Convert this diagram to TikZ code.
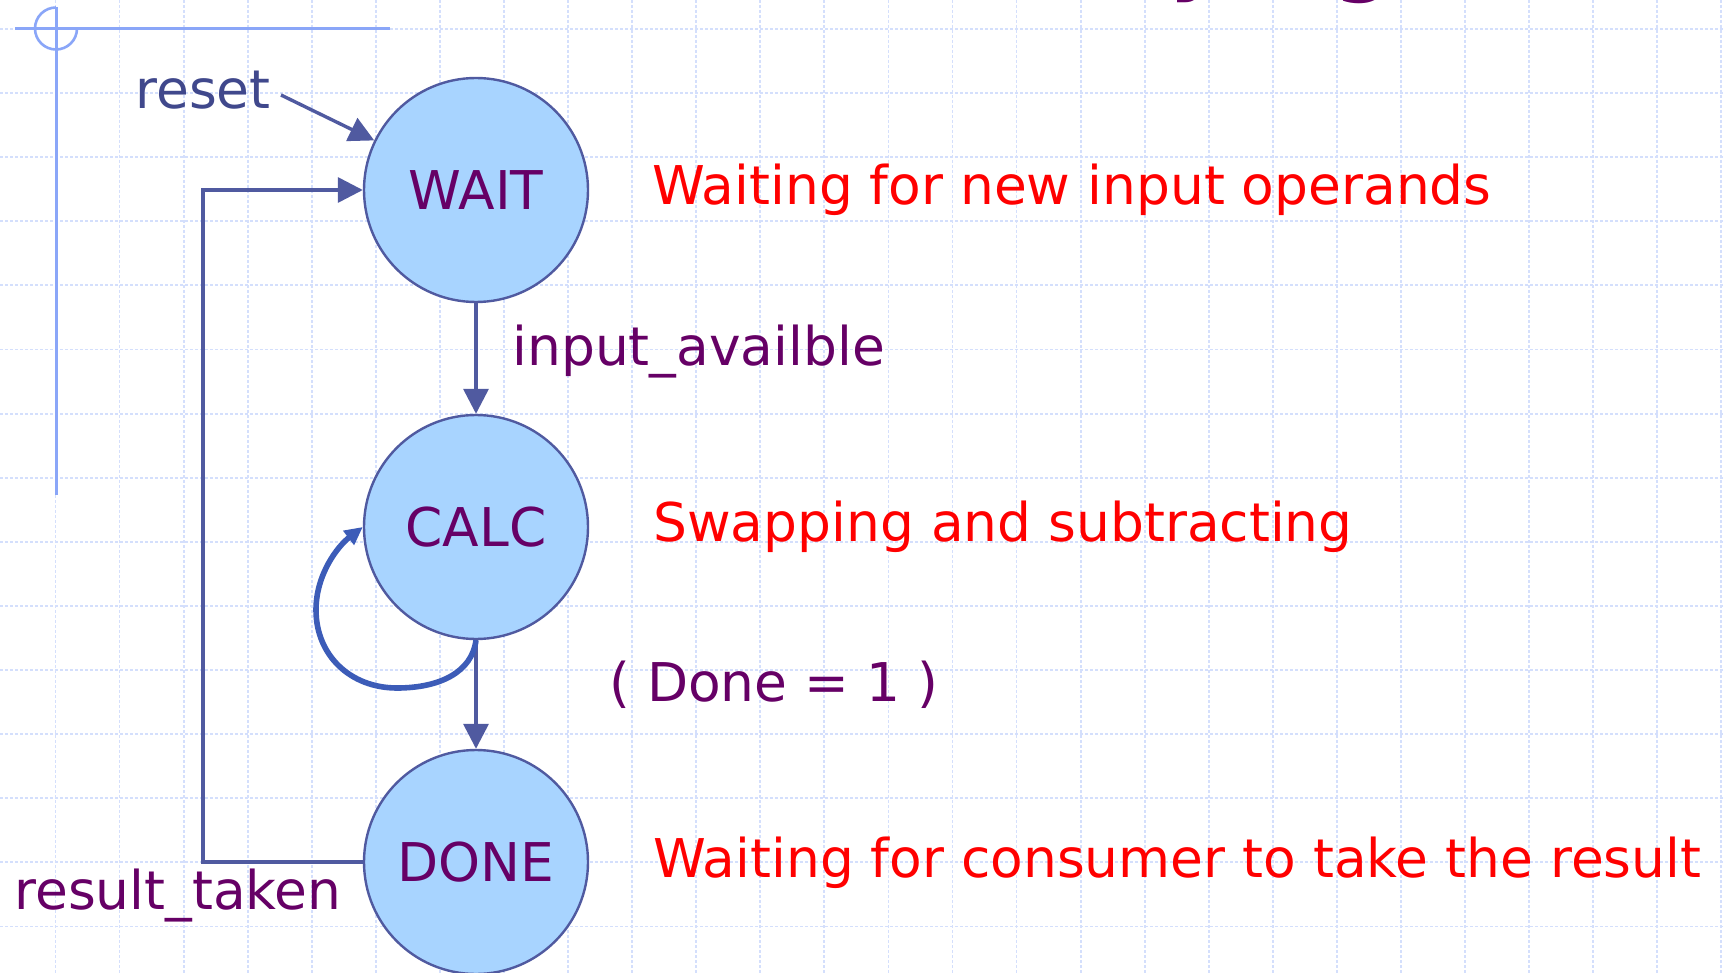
\documentclass[tikz,border=0pt]{standalone}
\usepackage{fontspec}
\setmainfont{DejaVu Sans}
\usetikzlibrary{arrows.meta}

\definecolor{gridblue}{RGB}{212,223,252}
\definecolor{tmplblue}{RGB}{138,166,248}
\definecolor{statefill}{RGB}{168,212,255}
\definecolor{edgeblue}{RGB}{80,90,160}
\definecolor{loopblue}{RGB}{60,92,184}
\definecolor{labelpurple}{RGB}{102,0,102}
\definecolor{resetblue}{RGB}{64,72,140}

\begin{document}
\begin{tikzpicture}[x=0.5pt,y=-0.5pt,
  gridline/.style={gridblue, line width=0.9pt, dash pattern=on 1.5pt off 1pt},
  tmpl/.style={tmplblue, line width=1.3pt},
  txt/.style={font=\fontsize{26.7pt}{32pt}\selectfont, inner sep=0pt},
  state/.style={circle, draw=edgeblue, line width=1.2pt, fill=statefill,
    minimum size=112pt, inner sep=0pt, text=labelpurple, txt},
  edge/.style={edgeblue, line width=1.7pt, -{Triangle[length=12.5pt,width=12.5pt]}},
  loopline/.style={loopblue, line width=2.8pt, -{Triangle[length=9pt,width=8.5pt]}},
  note/.style={txt, text=red, anchor=base west},
  cond/.style={txt, text=labelpurple, anchor=base west},
  titletxt/.style={font=\fontsize{40pt}{48pt}\selectfont\bfseries, text=labelpurple, inner sep=0pt, anchor=base},
]
\useasboundingbox (0,0) rectangle (1724,973);
\fill[white] (0,0) rectangle (1724,973);

% dashed background grid
\foreach \i in {0,...,26}
  \draw[gridline] ({55.5+64.07*\i},0) -- ({55.5+64.07*\i},973);
\foreach \j in {0,...,14}
  \draw[gridline] (0,{29+64.1*\j}) -- (1724,{29+64.1*\j});

% slide template ornament
\draw[tmpl] (15,28.7) -- (390,28.7);
\draw[tmpl] (56.5,7) -- (56.5,495);
\draw[tmpl] (56,7.5) arc[start angle=90, end angle=360, radius=10.5pt];

% title descenders peeking in at the top edge
\begin{scope}
  \clip (0,0) rectangle (1724,973);
  \node[titletxt] (titley) at (1196,-14) {y};
  \node[titletxt] (titleg) at (1363,-13) {g};
\end{scope}

% states
\node[state] (wait) at (476,190) {WAIT};
\node[state] (calc) at (476,527) {CALC};
\node[state] (done) at (476,862) {DONE};

% transitions
\coordinate (resetsrc) at (281,95);
\node[txt, text=resetblue, anchor=base west] (resetlbl) at (135,109) {reset};
\draw[edge] (resetsrc) -- (wait);

\draw[edge] (wait) -- (calc);
\draw[edge] (calc) -- (done);
\draw[edge] (done.west) -- ++(-160,0) |- (wait.west);

\coordinate (loopbot) at (397,688);
\coordinate (loopleft) at (316,610);
\draw[loopline] (calc.south) .. controls (472,672) and (440,688) .. (loopbot)
  .. controls (350,688) and (316,655) .. (loopleft)
  .. controls (316,574) and (338,546) .. (calc.west);

% transition conditions
\node[cond] (inavail) at (512,365) {input\_availble};
\node[cond] (donecond) at (609,701) {( Done = 1 )};
\node[cond] (taken) at (14,909) {result\_taken};

% state descriptions
\node[note] (waitnote) at (652,205) {Waiting for new input operands};
\node[note] (calcnote) at (653,541) {Swapping and subtracting};
\node[note] (donenote) at (653,877) {Waiting for consumer to take the result};
\end{tikzpicture}
\end{document}
